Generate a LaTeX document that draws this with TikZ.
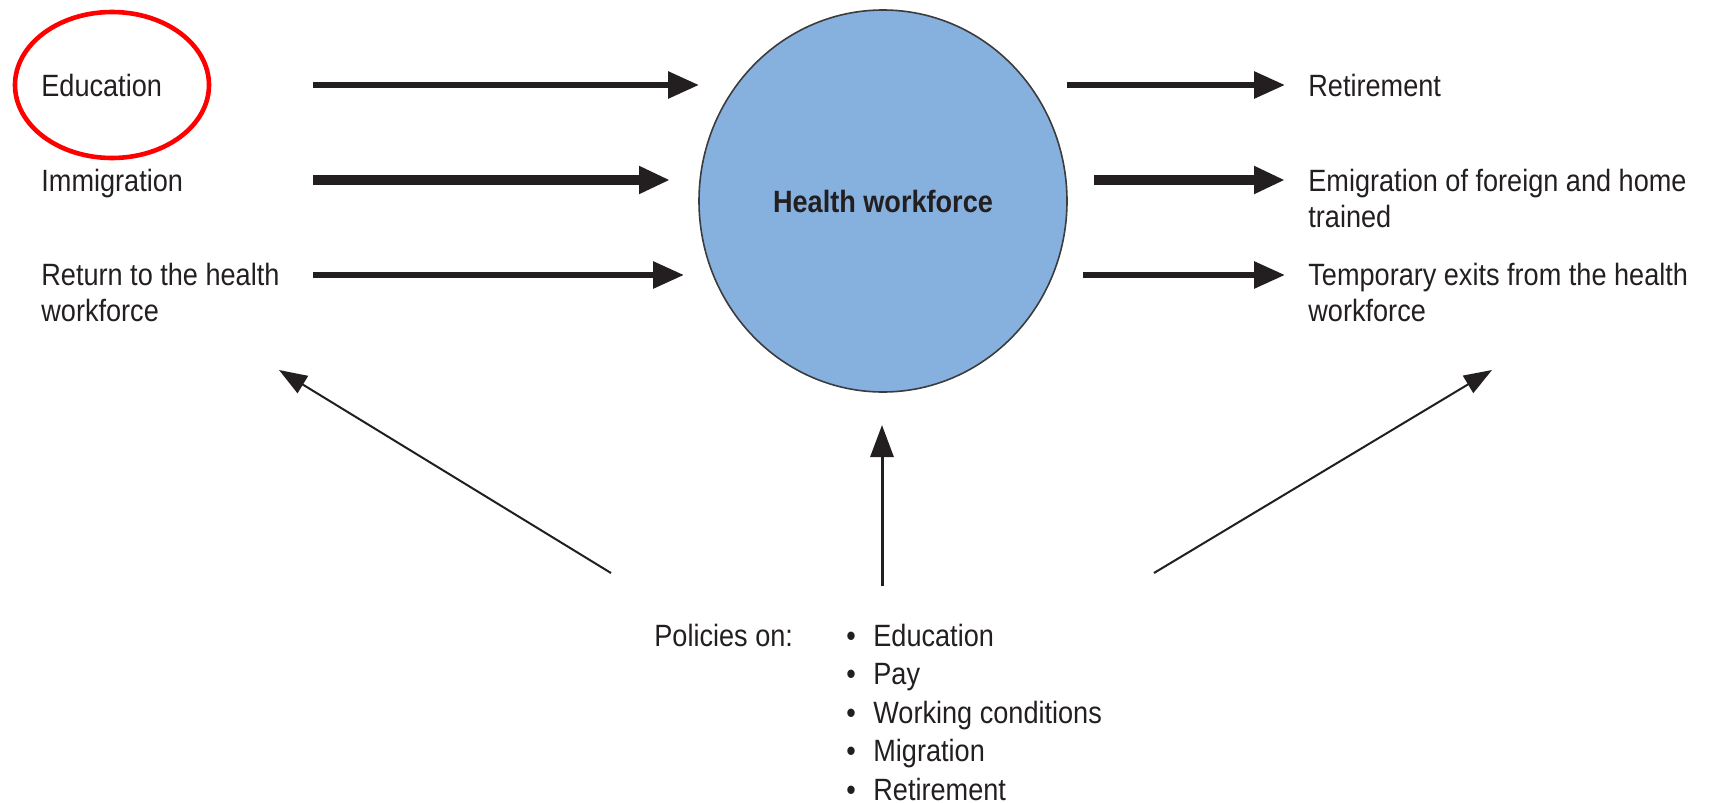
\documentclass[tikz,border=0pt]{standalone}
\usepackage{fontspec}
\setmainfont{Liberation Sans}[FakeStretch=0.88]
\usetikzlibrary{arrows.meta,shapes.geometric}
\definecolor{ink}{RGB}{35,31,32}
\definecolor{hwblue}{RGB}{134,176,222}
\definecolor{hwedge}{RGB}{60,60,60}
\tikzset{
  lbl/.style={anchor=base west,inner sep=0pt,text=ink,align=left,font=\fontsize{15.4pt}{18pt}\selectfont},
  flow/.style={draw=ink,line width=3pt,-{Triangle[length=15.5pt,width=13pt]}},
  bigflow/.style={draw=ink,line width=4.8pt,-{Triangle[length=15.5pt,width=13pt]}},
  policyarrow/.style={draw=ink,line width=1.5pt,-{Triangle[length=16pt,width=11.5pt]}},
  diagarrow/.style={draw=ink,line width=1pt,-{Triangle[length=14pt,width=10pt]}},
}
\begin{document}
\begin{tikzpicture}[x=0.5pt,y=-0.5pt]
\useasboundingbox (0,0) rectangle (1721,803);
% central node
\node[ellipse,draw=hwedge,line width=0.8pt,fill=hwblue,minimum width=184pt,minimum height=191pt,inner sep=0pt,
  font=\fontsize{15.4pt}{18pt}\selectfont\bfseries,text=ink] (hw) at (883,201) {Health workforce};
% left labels (multi-line nodes are anchored at the baseline of their last line)
\node[lbl] (edu) at (41,96) {Education};
\node[lbl] (imm) at (41,191) {Immigration};
\node[lbl] (ret) at (41,321) {Return to the health\\workforce};
% right labels
\node[lbl] (retire) at (1308,96) {Retirement};
\node[lbl] (emig) at (1308,227) {Emigration of foreign and home\\trained};
\node[lbl] (temp) at (1308,321) {Temporary exits from the health\\workforce};
% policies
\node[lbl] (pol) at (654,646) {Policies on:};
\node[lbl,font=\fontsize{15.4pt}{19.25pt}\selectfont] (list) at (846,800)
  {\makebox[13.5pt][l]{•}Education\\\makebox[13.5pt][l]{•}Pay\\\makebox[13.5pt][l]{•}Working conditions\\\makebox[13.5pt][l]{•}Migration\\\makebox[13.5pt][l]{•}Retirement};
% red highlight
\draw[red,line width=2.3pt] (112,85) ellipse[x radius=48.5pt,y radius=36.5pt];
% connector coordinates
\coordinate (a1s) at (313,85);  \coordinate (a1e) at (699,85);
\coordinate (a2s) at (313,180); \coordinate (a2e) at (670,180);
\coordinate (a3s) at (313,275); \coordinate (a3e) at (684,275);
\coordinate (b1s) at (1067,85);  \coordinate (b1e) at (1285,85);
\coordinate (b2s) at (1094,180); \coordinate (b2e) at (1285,180);
\coordinate (b3s) at (1083,275); \coordinate (b3e) at (1285,275);
\coordinate (pcs) at (882,586); \coordinate (pce) at (882,425);
\coordinate (pls) at (611,573); \coordinate (ple) at (279,370);
\coordinate (prs) at (1154,573); \coordinate (pre) at (1492,370);
% inflows
\draw[flow] (a1s) -- (a1e);
\draw[bigflow] (a2s) -- (a2e);
\draw[flow] (a3s) -- (a3e);
% outflows
\draw[flow] (b1s) -- (b1e);
\draw[bigflow] (b2s) -- (b2e);
\draw[flow] (b3s) -- (b3e);
% policy arrows
\draw[policyarrow] (pcs) -- (pce);
\draw[diagarrow] (pls) -- (ple);
\draw[diagarrow] (prs) -- (pre);
\end{tikzpicture}
\end{document}
